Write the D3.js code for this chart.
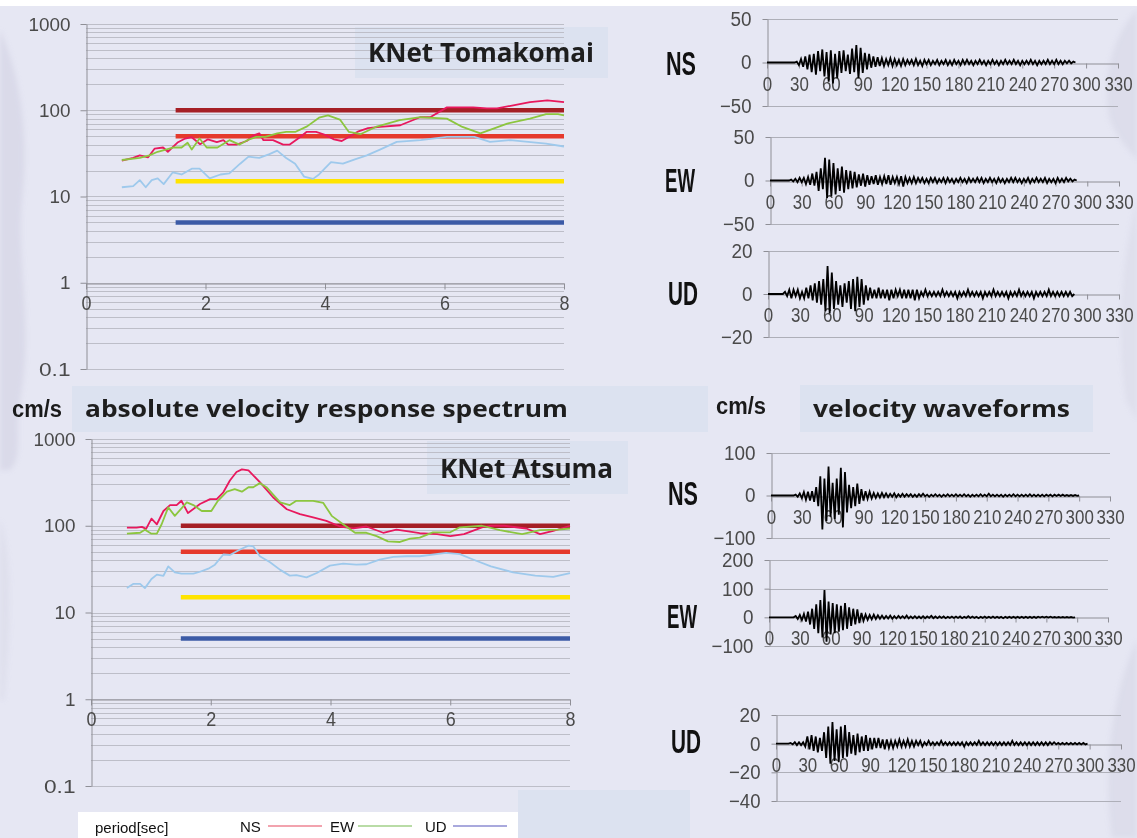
<!DOCTYPE html>
<html>
<head>
<meta charset="utf-8">
<script src="https://cdn.jsdelivr.net/npm/d3@7"></script>
<style>
  html, body { margin: 0; padding: 0; background: #e6e7f3; }
  svg { display: block; }
</style>
</head>
<body>
<svg id="slide" width="1137" height="838"></svg>
<script>
// ---------------------------------------------------------------------------
// Data: absolute velocity response spectra (period [s], cm/s)
// ---------------------------------------------------------------------------
const tomakomaiNS = [[0.6,26],[0.79,28],[0.9,30],[1.04,28.5],[1.15,36],[1.29,37],[1.37,33],[1.54,42.6],[1.66,47],[1.77,48.7],[1.91,40.4],[2.04,46],[2.19,42.6],[2.3,45],[2.38,40],[2.52,40],[2.69,44],[2.8,51],[2.9,54],[2.97,45],[3.13,45],[3.3,40],[3.41,40],[3.58,48.7],[3.69,56],[3.85,56],[4.0,52],[4.15,46],[4.28,44],[4.42,50],[4.56,57],[4.72,62],[4.92,64],[5.26,67],[5.59,83],[5.76,83],[6.04,108],[6.48,108],[6.71,105],[6.88,105],[7.15,114],[7.43,124],[7.72,130],[8.0,124]];
const tomakomaiEW = [[0.6,26.5],[0.9,28],[1.06,30],[1.2,33],[1.47,37],[1.6,37],[1.7,42],[1.77,35],[1.9,47],[2.02,37],[2.2,37],[2.4,45],[2.57,40],[2.7,45],[2.85,49],[3.0,49],[3.2,54],[3.35,56],[3.5,56],[3.7,65],[3.9,82],[4.05,87],[4.25,78],[4.4,56],[4.6,53],[4.85,64],[5.25,77],[5.6,83],[6.04,80],[6.3,64],[6.6,54],[6.9,64],[7.05,70],[7.43,80],[7.7,90],[7.9,90],[8.0,87]];
const tomakomaiUD = [[0.6,12.8],[0.79,13.2],[0.9,15.5],[1.0,12.8],[1.1,15.5],[1.2,16.2],[1.3,13.9],[1.45,19],[1.6,18],[1.77,21],[1.9,21],[2.07,16.2],[2.25,18],[2.4,18.5],[2.58,24],[2.72,29],[2.9,28],[3.07,31],[3.2,34],[3.35,28],[3.5,24],[3.65,17],[3.8,16],[3.9,18],[4.1,25],[4.3,24],[4.5,27],[4.7,30],[4.92,35],[5.2,43],[5.6,45],[6.04,49],[6.5,49],[6.76,43],[7.1,45],[7.4,43],[7.7,41],[8.0,38]];

const atsumaNS = [[0.6,95],[0.76,95],[0.85,97],[0.92,92],[1.01,121],[1.1,104],[1.21,148],[1.32,173],[1.43,173],[1.51,194],[1.62,140],[1.82,178],[1.99,203],[2.1,203],[2.21,243],[2.32,332],[2.43,416],[2.52,446],[2.63,435],[2.82,318],[3.04,213],[3.27,155],[3.49,136],[3.71,125],[3.93,114],[4.16,98],[4.38,93],[4.6,98],[4.88,83],[5.1,90],[5.3,86],[5.49,82],[5.78,80],[6.0,76],[6.23,80],[6.53,96],[6.68,100],[6.9,100],[7.27,93],[7.5,80],[7.72,87],[8.0,100]];
const atsumaEW = [[0.6,81],[0.82,83],[0.9,90],[1.01,81],[1.1,81],[1.18,104],[1.29,163],[1.4,130],[1.6,186],[1.71,173],[1.85,148],[2.01,148],[2.12,194],[2.27,247],[2.4,265],[2.52,247],[2.63,278],[2.71,278],[2.82,310],[2.93,278],[3.16,186],[3.32,173],[3.43,194],[3.71,194],[3.88,183],[4.02,130],[4.21,104],[4.41,83],[4.6,83],[4.77,76],[4.96,66],[5.16,65],[5.33,71],[5.49,73],[5.71,84],[6.0,84],[6.16,96],[6.53,100],[6.83,89],[7.2,80],[7.5,89],[7.8,90],[8.0,93]];
const atsumaUD = [[0.6,19.1],[0.71,21.4],[0.82,21.4],[0.9,19.1],[1.01,24.3],[1.1,27.3],[1.21,26.5],[1.29,34],[1.4,29],[1.51,28],[1.71,28],[1.82,29.5],[1.96,32],[2.07,35.6],[2.21,46.6],[2.32,46],[2.49,53.3],[2.63,59],[2.71,58],[2.82,44.5],[2.99,38],[3.16,31],[3.32,26.6],[3.43,27],[3.6,25.4],[3.77,28.5],[3.99,34.7],[4.21,36.6],[4.43,35.6],[4.6,36],[4.82,40.7],[5.05,43.8],[5.27,44.5],[5.49,44.5],[5.93,48.8],[6.16,47],[6.38,40.8],[6.68,34],[7.05,29],[7.42,26.6],[7.72,25.7],[8.0,28.5]];

// Reference levels (cm/s) drawn from period 1.5 s to 8 s
const levelValues = [100, 50, 15, 5];
const levelColors = ["#a51f25", "#e5392c", "#ffe400", "#3b5aa6"];
const levelPeriodRange = [1.5, 8];

// Axis ticks of the spectrum charts
const periodTicks = [0, 2, 4, 6, 8];
const decadeTicks = [0.1, 1, 10, 100, 1000];
const decadeLabels = ["0.1", "1", "10", "100", "1000"];
const gridMultipliers = [1, 2, 3, 4, 5, 6, 7, 8, 9];

// ---------------------------------------------------------------------------
// Data: velocity waveforms (cm/s), sampled every 2 s from the onset time
// ---------------------------------------------------------------------------
const waveTimeTicks = [0, 30, 60, 90, 120, 150, 180, 210, 240, 270, 300, 330];

const tomakomaiNSOnset = 26;
const tomakomaiNSWave = [0,1,-3,4,-5,7,-8,9,-11,10,
  -14,13,-10,15,-16,12,-22,14,-24,10,
  -18,13,-12,14,-10,9,-13,16,-11,20,
  -18,17,-12,11,-8,10,-6,7,-5,6,
  -4,5,-4,4,-3,5,-4,4,-3,3,
  -4,4,-3,3,-2,3,-3,4,-3,2,
  -4,3,-2,3,-3,2,-2,3,-3,2,
  -2,3,-3,2,-3,3,-2,2,-3,3,
  -2,3,-2,2,-3,2,-2,3,-2,2,
  -3,2,-2,3,-2,2,-3,2,-2,3,
  -2,2,-2,3,-2,2,-3,2,-2,2,
  -2,3,-2,2,-3,2,-2,2,-2,3,
  -2,2,-2,3,-2,2,-2,2,-1,2,
  -1,1,0];

const tomakomaiEWOnset = 18;
const tomakomaiEWWave = [0,1,-1,2,-2,3,-2,3,-4,4,
  -5,8,-6,10,-12,14,-10,26,-20,24,
  -18,20,-16,14,-12,16,-14,12,-10,11,
  -9,10,-8,7,-6,8,-7,6,-5,5,
  -4,6,-5,4,-4,5,-4,6,-5,4,
  -3,4,-4,5,-7,4,-3,3,-3,4,
  -3,3,-2,3,-3,2,-3,3,-2,3,
  -3,2,-2,3,-3,3,-2,2,-3,2,
  -2,3,-2,2,-3,3,-2,2,-2,3,
  -2,3,-3,2,-2,3,-2,2,-3,3,
  -2,2,-3,2,-2,3,-2,3,-2,2,
  -3,2,-2,3,-3,2,-2,3,-2,2,
  -2,3,-3,2,-2,2,-3,3,-2,2,
  -2,3,-1,2,-1,1,0];

const tomakomaiUDOnset = 14;
const tomakomaiUDWave = [0,1,-1,2,-2,2,-1,2,-2,1,
  -2,3,-2,4,-3,5,-4,6,-5,7,
  -8,13,-9,10,-7,6,-5,4,-6,5,
  -4,6,-7,7,-8,8,-6,7,-5,4,
  -3,3,-2,2,-2,3,-2,2,-2,2,
  -3,2,-2,2,-1,2,-2,2,-2,2,
  -2,2,-3,2,-2,1,-1,2,-1,1,
  -1,1,-1,1,-1,2,-1,1,-1,1,
  -1,1,-2,1,-1,1,-1,2,-1,1,
  -1,1,-1,1,-2,1,-1,1,-1,2,
  -1,1,-1,1,-1,1,-2,1,-1,1,
  -1,2,-1,1,-1,1,-1,1,-2,1,
  -1,1,-1,1,-1,2,-1,1,-1,1,
  -1,1,-1,1,-1,1,-1,0];

const atsumaNSOnset = 22;
const atsumaNSWave = [0,2,-3,5,-6,8,-10,9,-12,10,
  -15,20,-25,45,-80,40,-60,68,-50,30,
  -55,40,-45,65,-75,55,-40,25,-30,20,
  -25,28,-20,15,-12,10,-8,9,-7,6,
  -6,5,-5,6,-4,5,-4,4,-3,5,
  -4,3,-3,4,-3,3,-2,3,-3,2,
  -3,3,-2,4,-2,2,-3,2,-2,3,
  -2,2,-3,2,-2,3,-2,2,-2,3,
  -2,2,-2,3,-2,2,-3,2,-2,2,
  -2,3,-2,2,-2,4,-2,2,-2,2,
  -2,2,-3,2,-2,2,-2,3,-2,2,
  -2,2,-2,2,-2,3,-2,2,-2,2,
  -2,2,-2,2,-1,2,-2,2,-1,2,
  -1,2,-1,1,-1,1,-1,1,-1,0];

const atsumaEWOnset = 24;
const atsumaEWWave = [0,5,-6,8,-10,12,-15,20,-25,30,
  -40,45,-55,60,-70,95,-85,55,-60,50,
  -55,45,-50,40,-45,50,-40,35,-30,30,
  -25,28,-20,15,-12,10,-9,8,-7,9,
  -6,7,-5,6,-5,5,-4,6,-5,4,
  -4,5,-3,4,-3,6,-4,3,-3,4,
  -3,3,-3,4,-3,3,-2,5,-3,3,
  -3,3,-2,3,-3,2,-2,3,-2,3,
  -2,3,-3,2,-2,4,-2,3,-2,2,
  -3,2,-2,3,-2,2,-2,3,-2,2,
  -2,2,-3,2,-2,2,-2,2,-2,2,
  -2,2,-2,2,-2,2,-2,2,-2,2,
  -1,2,-1,2,-1,2,-1,1,-1,1,
  -1,1,-1,1,-1,1,-1,0];

const atsumaUDOnset = 12;
const atsumaUDWave = [0,0.5,-0.5,1,-1,1,-1,1,-2,5,
  -4,6,-5,5,-6,4,-5,8,-10,12,
  -14,15,-12,10,-13,12,-10,13,-9,8,
  -7,6,-8,7,-6,5,-5,6,-5,4,
  -4,4,-3,4,-3,3,-4,3,-3,2,
  -3,2,-2,3,-2,2,-2,3,-2,2,
  -2,2,-1,2,-2,1,-1,2,-1,1,
  -1,1,-1,2,-1,1,-1,1,-1,1,
  -1,1,-1,1,-2,1,-1,1,-1,1,
  -1,2,-1,1,-1,1,-1,1,-1,1,
  -1,1,-1,1,-1,1,-1,2,-1,1,
  -1,1,-1,1,-1,1,-1,1,-1,1,
  -1,1,-1,1,-1,1,-0.5,1,-0.5,0.5,
  -0.5,0.5,-0.5,0.5,-0.5,0.5,-0.5,0.5,-0.5,0.5,-0.5,0.5,-0.5,0];
const waveStep = 2;

// Component labels and legend entries
const componentNames = ["NS", "EW", "UD"];
const curveColors = ["#e8185d", "#8cc63f", "#9ec9ec"];
const legendColors = ["#f2a3ae", "#b9dca6", "#a9a9dd"];

// ---------------------------------------------------------------------------
// Drawing
// ---------------------------------------------------------------------------
const W = 1137, H = 838;
const svg = d3.select("#slide");
const tickFont = "'Liberation Sans', Arial, sans-serif";
const titleFont = "'Open Sans', 'Noto Sans', sans-serif";

// squeeze each tick label to a fixed width per character (half-width gothic look)
function narrow(sel, perChar) {
  sel.attr("textLength", function () { return this.textContent.length * perChar; })
     .attr("lengthAdjust", "spacingAndGlyphs");
}

// slide background
svg.append("rect").attr("width", W).attr("height", H).attr("fill", "#e6e7f3");

const defs = svg.append("defs");
defs.append("filter").attr("id", "soft").attr("x", "-50%").attr("y", "-50%")
  .attr("width", "200%").attr("height", "200%")
  .append("feGaussianBlur").attr("stdDeviation", 2.5);

// faint brush strokes along the slide edges
const deco = svg.append("g").attr("filter", "url(#soft)").attr("fill", "#cbcadd");
deco.append("path").attr("opacity", 0.45)
  .attr("d", "M0,30 C18,70 30,130 22,200 C16,260 34,330 20,400 C14,430 24,455 10,470 L0,470 Z");
deco.append("path").attr("opacity", 0.25)
  .attr("d", "M0,520 C14,560 10,640 4,700 L0,700 Z");
deco.append("path").attr("opacity", 0.35)
  .attr("d", "M1137,10 C1118,30 1100,70 1110,120 C1118,140 1130,150 1137,160 Z");
deco.append("path").attr("opacity", 0.25)
  .attr("d", "M1137,200 C1122,260 1116,330 1126,400 L1137,420 Z");
deco.append("path").attr("opacity", 0.35)
  .attr("d", "M1137,640 C1114,690 1102,760 1112,838 L1137,838 Z");

// white strip along the top edge
svg.append("rect").attr("width", W).attr("height", 6).attr("fill", "#ffffff");

// ---- response spectrum panel ------------------------------------------------
function drawSpectrum(frame, series) {
  const g = svg.append("g");
  const x = d3.scaleLinear().domain([0, 8]).range([frame.x0, frame.x1]);
  const y = d3.scaleLog().domain([0.1, 1000]).range([frame.yBottom, frame.yTop]);

  const gridValues = [];
  decadeTicks.slice(0, -1).forEach(d => gridMultipliers.forEach(m => gridValues.push(d * m)));
  gridValues.push(1000);

  g.append("g").selectAll("line").data(gridValues).join("line")
    .attr("x1", x(0)).attr("x2", x(8))
    .attr("y1", d => Math.round(y(d)) + 0.5).attr("y2", d => Math.round(y(d)) + 0.5)
    .attr("stroke", "#bdbec8").attr("stroke-width", 1);

  const yAxis = d3.axisLeft(y).tickValues(decadeTicks)
    .tickFormat((d, i) => decadeLabels[i]).tickSize(6).tickSizeOuter(0).tickPadding(10);
  const ya = g.append("g").attr("transform", `translate(${Math.round(x(0)) + 0.5},0)`).call(yAxis);
  ya.select(".domain").attr("stroke", "#8f8f96");
  ya.selectAll(".tick line").attr("stroke", "#8f8f96");
  ya.selectAll("text").attr("font-family", tickFont).attr("font-size", 19)
    .attr("fill", "#4a4a4a").call(narrow, 10.5);

  const xAxis = d3.axisBottom(x).tickValues(periodTicks).tickSize(6).tickSizeOuter(0).tickPadding(6);
  const xa = g.append("g").attr("transform", `translate(0,${Math.round(y(1)) + 0.5})`).call(xAxis);
  xa.select(".domain").attr("stroke", "#8f8f96");
  xa.selectAll(".tick line").attr("stroke", "#8f8f96");
  xa.selectAll("text").attr("font-family", tickFont).attr("font-size", 20)
    .attr("fill", "#4a4a4a").call(narrow, 10);

  g.append("g").selectAll("line").data(levelValues).join("line")
    .attr("x1", x(levelPeriodRange[0])).attr("x2", x(levelPeriodRange[1]))
    .attr("y1", d => y(d)).attr("y2", d => y(d))
    .attr("stroke", (d, i) => levelColors[i]).attr("stroke-width", 4.5);

  const line = d3.line().x(d => x(d[0])).y(d => y(d[1]));
  // draw UD first so the horizontal components stay on top
  [2, 0, 1].forEach(i => {
    g.append("path").datum(series[i]).attr("d", line)
      .attr("fill", "none").attr("stroke", curveColors[i])
      .attr("stroke-width", 1.8).attr("stroke-linejoin", "round");
  });
}

// ---- waveform panel -----------------------------------------------------------
function drawWave(frame, onset, values, ticks, domain) {
  const g = svg.append("g");
  const x = d3.scaleLinear().domain([0, 330]).range([frame.x0, frame.x1]);
  const y = d3.scaleLinear().domain(domain).range([frame.yBottom, frame.yTop]);

  g.append("g").selectAll("line").data(ticks.filter(t => t !== 0)).join("line")
    .attr("x1", x(0)).attr("x2", x(330))
    .attr("y1", d => Math.round(y(d)) + 0.5).attr("y2", d => Math.round(y(d)) + 0.5)
    .attr("stroke", "#aeafb8");

  const yAxis = d3.axisLeft(y).tickValues(ticks).tickSize(5).tickSizeOuter(0).tickPadding(11);
  const ya = g.append("g").attr("transform", `translate(${Math.round(x(0)) + 0.5},0)`).call(yAxis);
  ya.select(".domain").attr("stroke", "#8f8f96");
  ya.selectAll(".tick line").attr("stroke", "#8f8f96");
  ya.selectAll("text").attr("font-family", tickFont).attr("font-size", 20)
    .attr("fill", "#4a4a4a").call(narrow, 10.5);

  const xAxis = d3.axisBottom(x).tickValues(waveTimeTicks).tickSize(5).tickSizeOuter(0).tickPadding(8);
  const xa = g.append("g").attr("transform", `translate(0,${Math.round(y(0)) + 0.5})`).call(xAxis);
  xa.select(".domain").attr("stroke", "#8f8f96");
  xa.selectAll(".tick line").attr("stroke", "#8f8f96");
  xa.selectAll("text").attr("font-family", tickFont).attr("font-size", 20)
    .attr("fill", "#4a4a4a").call(narrow, 9.4);

  const pts = [[0, 0]].concat(values.map((v, i) => [onset + i * waveStep, v]));
  g.append("path").datum(pts)
    .attr("d", d3.line().x(d => x(d[0])).y(d => y(d[1])))
    .attr("fill", "none").attr("stroke", "#000").attr("stroke-width", 1.8)
    .attr("stroke-linejoin", "miter");
}

// ---- boxes and titles -----------------------------------------------------------
function box(x, y, w, h, fill) {
  svg.append("rect").attr("x", x).attr("y", y).attr("width", w).attr("height", h).attr("fill", fill);
}
function title(text, x, y, size, len) {
  svg.append("text").attr("x", x).attr("y", y).text(text)
    .attr("font-family", titleFont).attr("font-weight", 700).attr("font-size", size)
    .attr("fill", "#1e1e1e").attr("textLength", len).attr("lengthAdjust", "spacingAndGlyphs");
}
function compLabel(text, cx, cy) {
  svg.append("text").attr("x", cx).attr("y", cy + 12).text(text)
    .attr("text-anchor", "middle").attr("font-family", tickFont).attr("font-weight", 700)
    .attr("font-size", 33).attr("fill", "#111")
    .attr("textLength", 30).attr("lengthAdjust", "spacingAndGlyphs");
}
function unitLabel(x, y) {
  svg.append("text").attr("x", x).attr("y", y).text("cm/s")
    .attr("font-family", tickFont).attr("font-weight", 700).attr("font-size", 23)
    .attr("fill", "#1a1a1a").attr("textLength", 50).attr("lengthAdjust", "spacingAndGlyphs");
}

const boxFill = "#dce2f0";
box(355, 27, 253, 51, boxFill);
box(72, 386, 636, 46, boxFill);
box(800, 385, 293, 47, boxFill);
box(427, 441, 201, 53, boxFill);
box(518, 790, 172, 48, boxFill);

// spectra
drawSpectrum({ x0: 86, x1: 564, yTop: 24, yBottom: 369 }, [tomakomaiNS, tomakomaiEW, tomakomaiUD]);
drawSpectrum({ x0: 91, x1: 570, yTop: 439, yBottom: 786 }, [atsumaNS, atsumaEW, atsumaUD]);

// waveforms
drawWave({ x0: 767, x1: 1118, yTop: 19, yBottom: 106 }, tomakomaiNSOnset, tomakomaiNSWave, [-50, 0, 50], [-50, 50]);
drawWave({ x0: 770, x1: 1119, yTop: 137, yBottom: 224 }, tomakomaiEWOnset, tomakomaiEWWave, [-50, 0, 50], [-50, 50]);
drawWave({ x0: 768, x1: 1119, yTop: 251, yBottom: 337 }, tomakomaiUDOnset, tomakomaiUDWave, [-20, 0, 20], [-20, 20]);
drawWave({ x0: 771, x1: 1110, yTop: 453, yBottom: 538 }, atsumaNSOnset, atsumaNSWave, [-100, 0, 100], [-100, 100]);
drawWave({ x0: 769, x1: 1108, yTop: 560, yBottom: 646 }, atsumaEWOnset, atsumaEWWave, [-100, 0, 100, 200], [-100, 200]);
drawWave({ x0: 776, x1: 1121, yTop: 715, yBottom: 801 }, atsumaUDOnset, atsumaUDWave, [-40, -20, 0, 20], [-40, 20]);

// titles
title("KNet Tomakomai", 368, 62, 27, 226);
title("KNet Atsuma", 440, 478, 26, 173);
title("absolute velocity response spectrum", 85, 417, 23, 483);
title("velocity waveforms", 813, 417, 23, 257);
unitLabel(12, 417);
unitLabel(716, 414);

// component labels
compLabel(componentNames[0], 681, 63);
compLabel(componentNames[1], 680, 180);
compLabel(componentNames[2], 683, 293);
compLabel(componentNames[0], 683, 493);
compLabel(componentNames[1], 682, 616);
compLabel(componentNames[2], 686, 741);

// legend strip
box(78, 812, 440, 26, "#ffffff");
const lg = svg.append("g").attr("font-family", tickFont).attr("font-size", 15).attr("fill", "#111");
lg.append("text").attr("x", 95).attr("y", 833).text("period[sec]");
const legendX = [240, 330, 425];
componentNames.forEach((n, i) => {
  lg.append("text").attr("x", legendX[i]).attr("y", 832).text(n);
  lg.append("line").attr("x1", legendX[i] + 28).attr("x2", legendX[i] + 82)
    .attr("y1", 826).attr("y2", 826).attr("stroke", legendColors[i]).attr("stroke-width", 2);
});
</script>
</body>
</html>
